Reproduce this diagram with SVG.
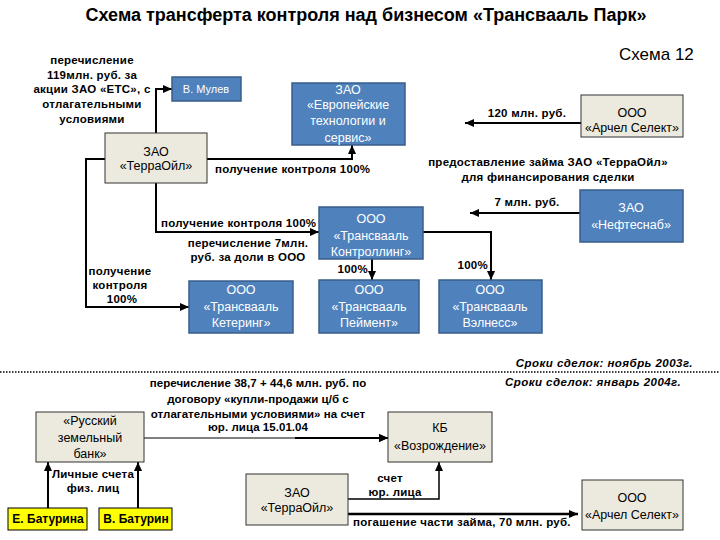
<svg xmlns="http://www.w3.org/2000/svg" width="720" height="540" viewBox="0 0 720 540">
<style>
text{font-family:"Liberation Sans",Arial,sans-serif;fill:#000}
.t{font-size:18px;font-weight:bold}
.s{font-size:17px}
.l{font-size:11.5px;font-weight:bold;letter-spacing:0.25px}
.n{letter-spacing:0.05px}
.i{font-size:11.5px;font-weight:bold;font-style:italic;letter-spacing:0.45px}
.c{text-anchor:middle}
.b rect{fill:#4F81BD;stroke:#385D8A;stroke-width:1.5}
.b text{fill:#fff;font-size:12.5px;text-anchor:middle}
.g rect{fill:#ECEADF;stroke:#333;stroke-width:1}
.g text{font-size:12.5px;text-anchor:middle}
.y rect{fill:#FFFF00;stroke:#000;stroke-width:1}
.y text{font-size:12px;font-weight:bold;text-anchor:middle}
#connectors path{fill:none;stroke:#000;stroke-width:2;marker-end:url(#ah)}
</style>
<defs>
<marker id="ah" markerUnits="userSpaceOnUse" markerWidth="10" markerHeight="10" viewBox="0 0 10 10" refX="9" refY="5" orient="auto">
<path d="M0,1 L9,5 L0,9 Z" fill="#000"/>
</marker>
</defs>
<rect width="720" height="540" fill="#fff"/>
<text class="t c" x="366" y="21">Схема трансферта контроля над бизнесом «Трансвааль Парк»</text>
<text class="s" x="619" y="60">Схема 12</text>

<g id="connectors">
<path d="M156,133 V89 H172"/>
<path d="M207,159 H352 V145"/>
<path d="M105,159 H86 V307 H189"/>
<path d="M156,183 V232 H319"/>
<path d="M372,259 V280"/>
<path d="M423,232 H491 V280"/>
<path d="M580,213 H470"/>
<path d="M581,123 H465"/>
<path d="M144,438 H388" style="stroke-width:1"/>
<path d="M295,438 H388"/>
<path d="M48,508 V462"/>
<path d="M138,508 V462"/>
<path d="M348,499 H439 V462" style="stroke-width:1.5"/>
<path d="M348,514 H578" style="stroke-width:2.5"/>
</g>

<text class="l c" x="92" y="64">перечисление</text>
<text class="l c" x="92" y="79">119млн. руб. за</text>
<text class="l c" x="92" y="93">акции ЗАО «ЕТС», с</text>
<text class="l c" x="92" y="108">отлагательными</text>
<text class="l c" x="92" y="123">условиями</text>

<g id="mulev" class="b"><rect x="172" y="77" width="69" height="24"/><text x="206" y="93" style="font-size:11px">В. Мулев</text></g>
<g id="ets" class="b"><rect x="292" y="83" width="113" height="62"/>
<text x="348" y="94">ЗАО</text><text x="348" y="109">«Европейские</text><text x="348" y="125">технологии и</text><text x="348" y="142">сервис»</text></g>
<g id="terraoil" class="g"><rect x="105" y="133" width="102" height="50"/>
<text x="156" y="156">ЗАО</text><text x="156" y="170">«ТерраОйл»</text></g>
<text class="l" x="215" y="173">получение контроля 100%</text>

<g id="archel1" class="g"><rect x="581" y="95" width="102" height="42"/>
<text x="632" y="117">ООО</text><text x="632" y="132">«Арчел Селект»</text></g>
<text class="l c" x="527" y="117">120 млн. руб.</text>
<text class="l c" x="548" y="166">предоставление займа ЗАО «ТерраОйл»</text>
<text class="l c" x="548" y="181">для финансирования сделки</text>

<g id="neftesnab" class="b"><rect x="580" y="190" width="103" height="52"/>
<text x="631" y="212">ЗАО</text><text x="631" y="229">«Нефтеснаб»</text></g>
<text class="l c" x="527" y="206">7 млн. руб.</text>

<text class="l" x="161" y="227">получение контроля 100%</text>
<text class="l c" x="248" y="247">перечисление 7млн.</text>
<text class="l c" x="248" y="261">руб. за доли в ООО</text>

<g id="controlling" class="b"><rect x="319" y="207" width="104" height="52"/>
<text x="371" y="223">ООО</text><text x="371" y="240">«Трансвааль</text><text x="371" y="256">Контроллинг»</text></g>
<text class="l" x="368" y="273" text-anchor="end">100%</text>
<text class="l" x="488" y="269" text-anchor="end">100%</text>

<text class="l c" x="120" y="275">получение</text>
<text class="l c" x="120" y="289">контроля</text>
<text class="l c" x="122" y="303">100%</text>

<g id="catering" class="b"><rect x="189" y="281" width="104" height="52"/>
<text x="241" y="294">ООО</text><text x="241" y="311">«Трансвааль</text><text x="241" y="327">Кетеринг»</text></g>
<g id="payment" class="b"><rect x="319" y="280" width="100" height="53"/>
<text x="369" y="294">ООО</text><text x="369" y="311">«Трансвааль</text><text x="369" y="327">Пеймент»</text></g>
<g id="wellness" class="b"><rect x="439" y="280" width="103" height="53"/>
<text x="490" y="294">ООО</text><text x="490" y="311">«Трансвааль</text><text x="490" y="327">Вэлнесс»</text></g>

<text class="i" x="693" y="367" text-anchor="end">Сроки сделок: ноябрь 2003г.</text>
<line x1="0" y1="372" x2="720" y2="372" stroke="#000" stroke-width="1.5" stroke-dasharray="1.5,1.5"/>
<text class="i" x="505" y="386">Сроки сделок: январь 2004г.</text>

<g id="bank" class="g"><rect x="36" y="412" width="108" height="50"/>
<text x="90" y="425">«Русский</text><text x="90" y="442">земельный</text><text x="90" y="458">банк»</text></g>
<text class="l c n" x="258" y="387">перечисление 38,7 + 44,6 млн. руб. по</text>
<text class="l c n" x="258" y="403">договору «купли-продажи ц/б с</text>
<text class="l c n" x="258" y="418">отлагательными условиями» на счет</text>
<text class="l c n" x="258" y="431">юр. лица 15.01.04</text>

<g id="kb" class="g"><rect x="388" y="412" width="104" height="50"/>
<text x="440" y="432">КБ</text><text x="440" y="450">«Возрождение»</text></g>

<text class="l c" x="93" y="478">Личные счета</text>
<text class="l c" x="93" y="492">физ. лиц</text>

<g id="baturina" class="y"><rect x="8" y="508" width="79" height="22"/><text x="48" y="523">Е. Батурина</text></g>
<g id="baturin" class="y"><rect x="99" y="508" width="73" height="22"/><text x="136" y="523">В. Батурин</text></g>

<g id="terraoil2" class="g"><rect x="246" y="474" width="102" height="51"/>
<text x="297" y="497">ЗАО</text><text x="297" y="512">«ТерраОйл»</text></g>
<text class="l c" x="390" y="482">счет</text>
<text class="l c" x="395" y="496">юр. лица</text>
<text class="l" x="353" y="526">погашение части займа, 70 млн. руб.</text>

<g id="archel2" class="g"><rect x="582" y="480" width="101" height="50"/>
<text x="632" y="502">ООО</text><text x="632" y="519">«Арчел Селект»</text></g>
</svg>
